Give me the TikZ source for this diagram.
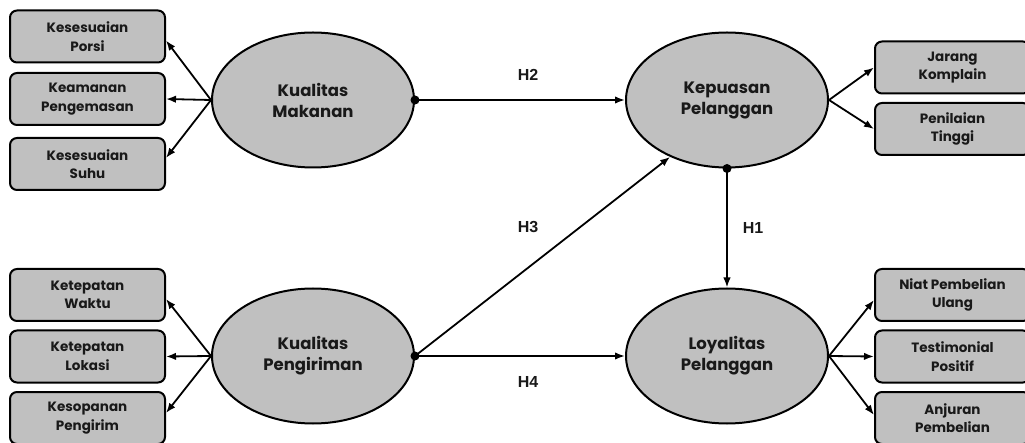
\documentclass[tikz,border=0pt]{standalone}
\usepackage{fontspec}
\setmainfont{Poppins}
\newfontfamily\hfont{Liberation Sans}
\usetikzlibrary{shapes.geometric,arrows.meta,positioning}
\definecolor{boxgray}{RGB}{192,192,192}
\definecolor{txt}{RGB}{25,25,25}
\tikzset{
  ind/.style={draw=black, line width=2pt, fill=boxgray, rounded corners=7pt,
    minimum width=155pt, minimum height=52pt, inner sep=0pt, align=center,
    text=txt, font=\bfseries\fontsize{13.5}{18.5}\selectfont},
  lat/.style={draw=black, line width=2pt, fill=boxgray, ellipse,
    minimum width=202pt, minimum height=135pt, inner sep=0pt, align=center,
    text=txt, font=\bfseries\fontsize{16.5}{21}\selectfont},
  arr/.style={line width=1.8pt, -{Latex[length=10pt,width=7.5pt]}},
  hlab/.style={font=\hfont\bfseries\fontsize{16}{18}\selectfont, text=txt},
  dot/.style={circle, fill=black, inner sep=0pt, minimum size=9pt}
}
\begin{document}
\begin{tikzpicture}[x=1pt,y=-1pt]
\clip (0,0) rectangle (1025,443);
\fill[white] (0,0) rectangle (1025,443);
% latent variables
\node[lat] (km) at (313,100) {Kualitas\\Makanan};
\node[lat] (kp) at (313,356) {Kualitas\\Pengiriman};
\node[lat] (ks) at (727,100) {Kepuasan\\Pelanggan};
\node[lat] (lp) at (727,356) {Loyalitas\\Pelanggan};
% left indicators top
\node[ind] (a1) at (87.5,36.5) {Kesesuaian\\Porsi};
\node[ind] (a2) at (87.5,99) {Keamanan\\Pengemasan};
\node[ind] (a3) at (87.5,164) {Kesesuaian\\Suhu};
% left indicators bottom
\node[ind] (b1) at (87.5,295) {Ketepatan\\Waktu};
\node[ind] (b2) at (87.5,356.5) {Ketepatan\\Lokasi};
\node[ind] (b3) at (87.5,418) {Kesopanan\\Pengirim};
% right indicators top
\node[ind] (c1) at (952.5,67.5) {Jarang\\Komplain};
\node[ind] (c2) at (952.5,129) {Penilaian\\Tinggi};
% right indicators bottom
\node[ind] (d1) at (952.5,295) {Niat Pembelian\\Ulang};
\node[ind] (d2) at (952.5,356.5) {Testimonial\\Positif};
\node[ind] (d3) at (952.5,418) {Anjuran\\Pembelian};
% indicator arrows
\draw[arr] (km.west) -- ([yshift=-4pt]a1.east);
\draw[arr] (km.west) -- (a2.east);
\draw[arr] (km.west) -- ([yshift=6pt]a3.east);
\draw[arr] (kp.west) -- ([yshift=-4pt]b1.east);
\draw[arr] (kp.west) -- (b2.east);
\draw[arr] (kp.west) -- ([yshift=5pt]b3.east);
\draw[arr] (ks.east) -- (c1.west);
\draw[arr] (ks.east) -- (c2.west);
\draw[arr] (lp.east) -- ([yshift=-5pt]d1.west);
\draw[arr] (lp.east) -- (d2.west);
\draw[arr] (lp.east) -- ([yshift=3pt]d3.west);
% structural paths
\node[dot] (dkm) at (km.east) {};
\node[dot] (dkp) at (kp.east) {};
\node[dot] (dks) at (ks.south) {};
\draw[arr] (dkm.center) -- (ks.west);
\draw[arr] (dkp.center) -- (ks.225);
\draw[arr] (dkp.center) -- (lp.west);
\draw[arr] (dks.center) -- (lp.north);
% labels
\node[hlab] (h2) at (528,75) {H2};
\node[hlab] (h3) at (528,227) {H3};
\node[hlab] (h4) at (528,382) {H4};
\node[hlab] (h1) at (753,228) {H1};
\end{tikzpicture}
\end{document}
